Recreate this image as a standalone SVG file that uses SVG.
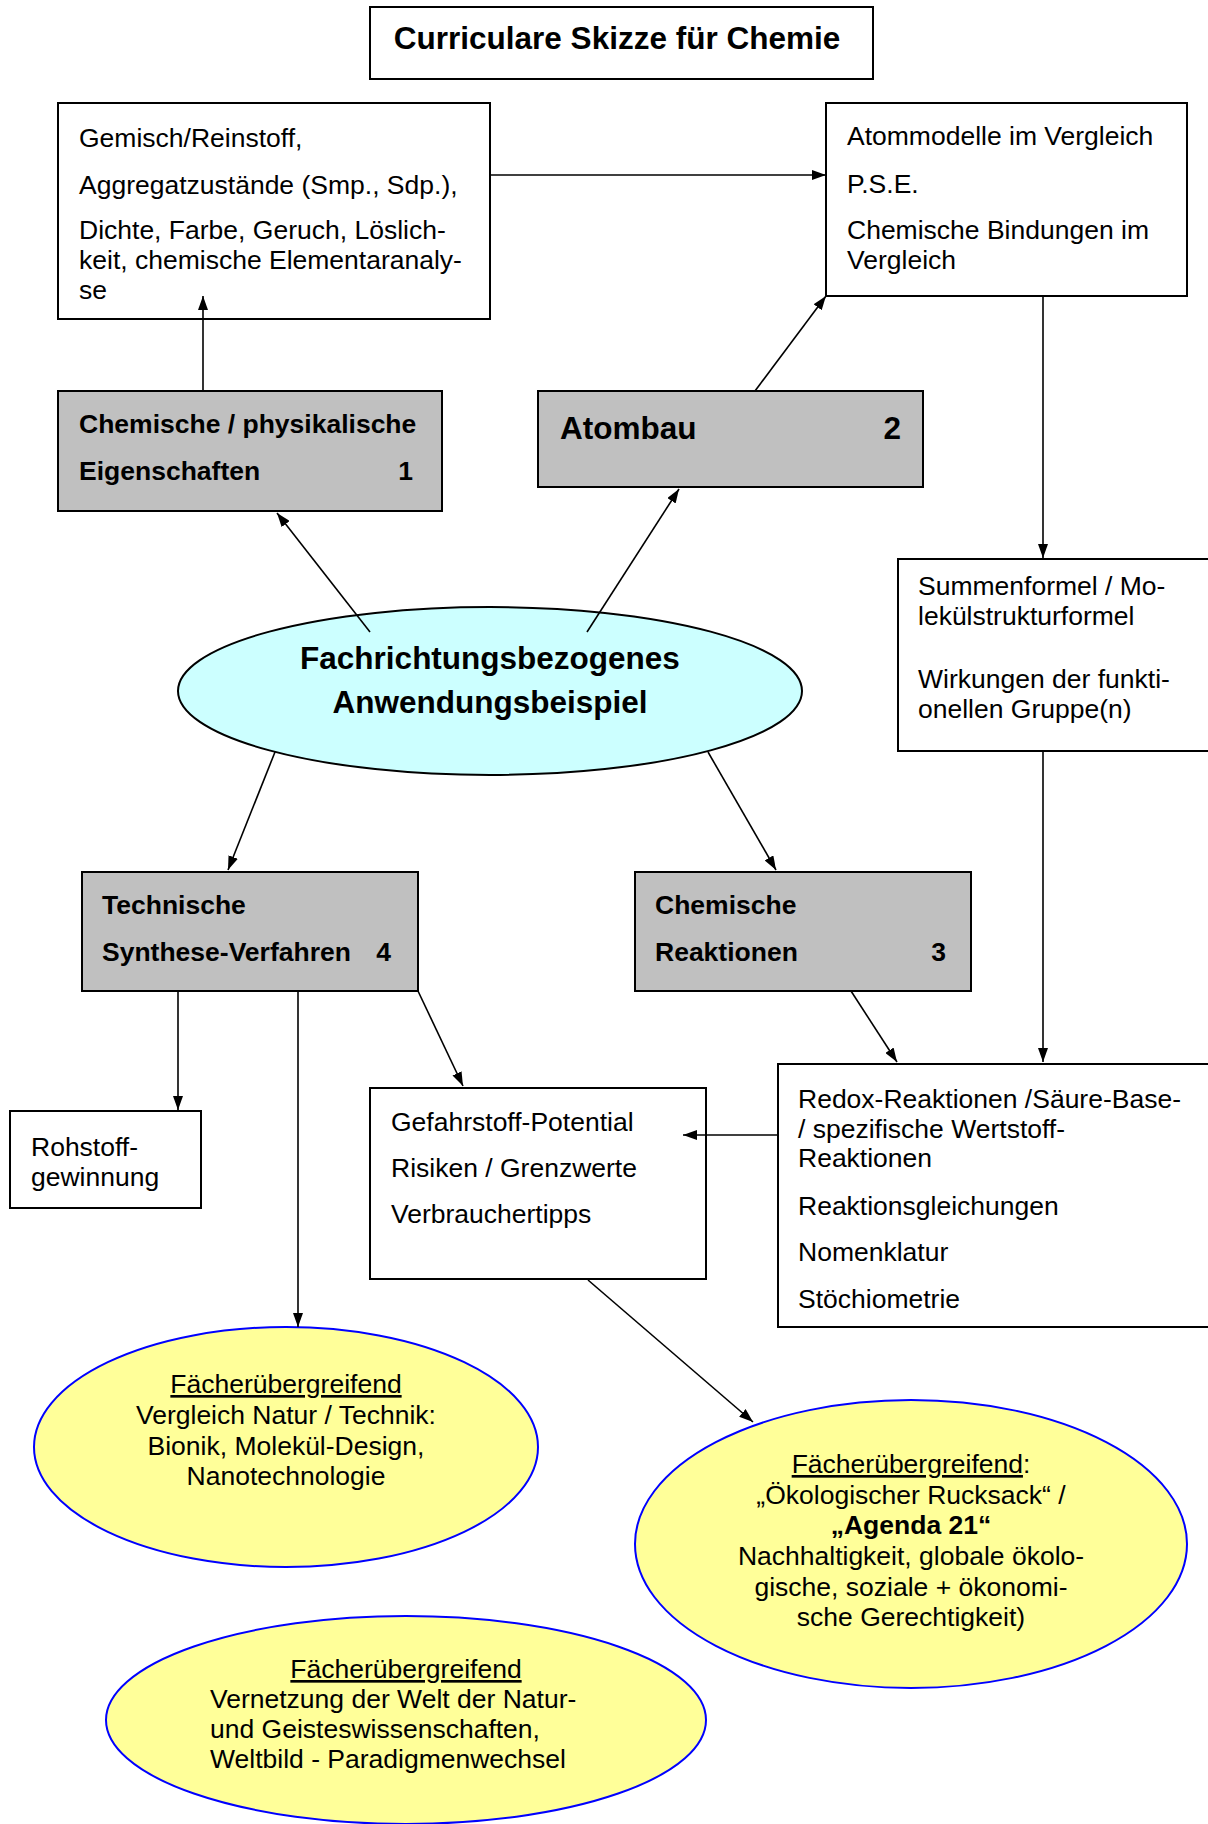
<svg xmlns="http://www.w3.org/2000/svg" width="1208" height="1824" viewBox="0 0 1208 1824">
  <style>
    text { font-family: "Liberation Sans", Arial, sans-serif; fill: #000; }
    .t { font-size: 26.5px; }
    .b { font-size: 26.5px; font-weight: bold; }
    .big { font-size: 31.5px; font-weight: bold; }
    .c { text-anchor: middle; }
    .e { text-anchor: end; }
    .u { text-decoration: underline; }
    .box { fill: #fff; stroke: #000; stroke-width: 2; }
    .grey { fill: #c0c0c0; stroke: #000; stroke-width: 2; }
    .oval { fill: #ccffff; stroke: #000; stroke-width: 2; }
    .yel { fill: #ffff99; stroke: #0000ff; stroke-width: 2; }
    .con { fill: none; stroke: #000; stroke-width: 1.6; marker-end: url(#arr); }
  </style>
  <defs>
    <marker id="arr" viewBox="0 0 14 10" refX="14" refY="5" markerWidth="14" markerHeight="10" orient="auto" markerUnits="userSpaceOnUse">
      <path d="M0,0 L14,5 L0,10 z" fill="#000"/>
    </marker>
  </defs>

  <!-- title -->
  <g id="title">
    <rect class="box" x="370" y="7" width="503" height="72"/>
    <text class="big c" x="617" y="49">Curriculare Skizze für Chemie</text>
  </g>

  <g id="stoffe">
    <rect class="box" x="58" y="103" width="432" height="216"/>
    <text class="t" x="79" y="147">Gemisch/Reinstoff,</text>
    <text class="t" x="79" y="194">Aggregatzustände (Smp., Sdp.),</text>
    <text class="t" x="79" y="239">Dichte, Farbe, Geruch, Löslich-</text>
    <text class="t" x="79" y="269">keit, chemische Elementaranaly-</text>
    <text class="t" x="79" y="299">se</text>
  </g>

  <g id="atommodelle">
    <rect class="box" x="826" y="103" width="361" height="193"/>
    <text class="t" x="847" y="145">Atommodelle im Vergleich</text>
    <text class="t" x="847" y="193">P.S.E.</text>
    <text class="t" x="847" y="239">Chemische Bindungen im</text>
    <text class="t" x="847" y="269">Vergleich</text>
  </g>

  <g id="eigenschaften">
    <rect class="grey" x="58" y="391" width="384" height="120"/>
    <text class="b" x="79" y="433">Chemische / physikalische</text>
    <text class="b" x="79" y="480">Eigenschaften</text>
    <text class="b e" x="413" y="480">1</text>
  </g>

  <g id="atombau">
    <rect class="grey" x="538" y="391" width="385" height="96"/>
    <text class="big" x="560" y="439">Atombau</text>
    <text class="big e" x="901" y="439">2</text>
  </g>

  <g id="summenformel">
    <path class="box" d="M1215,559 H898 V751 H1215"/>
    <text class="t" x="918" y="595">Summenformel / Mo-</text>
    <text class="t" x="918" y="625">lekülstrukturformel</text>
    <text class="t" x="918" y="688">Wirkungen der funkti-</text>
    <text class="t" x="918" y="718">onellen Gruppe(n)</text>
  </g>

  <g id="anwendung">
    <ellipse class="oval" cx="490" cy="691" rx="312" ry="84"/>
    <text class="big c" x="490" y="669">Fachrichtungsbezogenes</text>
    <text class="big c" x="490" y="713">Anwendungsbeispiel</text>
  </g>

  <g id="synthese">
    <rect class="grey" x="82" y="872" width="336" height="119"/>
    <text class="b" x="102" y="914">Technische</text>
    <text class="b" x="102" y="961">Synthese-Verfahren</text>
    <text class="b e" x="391" y="961">4</text>
  </g>

  <g id="reaktionen">
    <rect class="grey" x="635" y="872" width="336" height="119"/>
    <text class="b" x="655" y="914">Chemische</text>
    <text class="b" x="655" y="961">Reaktionen</text>
    <text class="b e" x="946" y="961">3</text>
  </g>

  <g id="rohstoff">
    <rect class="box" x="10" y="1111" width="191" height="97"/>
    <text class="t" x="31" y="1156">Rohstoff-</text>
    <text class="t" x="31" y="1186">gewinnung</text>
  </g>

  <g id="gefahrstoff">
    <rect class="box" x="370" y="1088" width="336" height="191"/>
    <text class="t" x="391" y="1131">Gefahrstoff-Potential</text>
    <text class="t" x="391" y="1177">Risiken / Grenzwerte</text>
    <text class="t" x="391" y="1223">Verbrauchertipps</text>
  </g>

  <g id="redox">
    <path class="box" d="M1215,1064 H778 V1327 H1215"/>
    <text class="t" x="798" y="1108">Redox-Reaktionen /Säure-Base-</text>
    <text class="t" x="798" y="1138">/ spezifische Wertstoff-</text>
    <text class="t" x="798" y="1167">Reaktionen</text>
    <text class="t" x="798" y="1215">Reaktionsgleichungen</text>
    <text class="t" x="798" y="1261">Nomenklatur</text>
    <text class="t" x="798" y="1308">Stöchiometrie</text>
  </g>

  <g id="natur-technik">
    <ellipse class="yel" cx="286" cy="1447" rx="252" ry="120"/>
    <text class="t c" x="286" y="1393"><tspan class="u">Fächerübergreifend</tspan></text>
    <text class="t c" x="286" y="1424">Vergleich Natur / Technik:</text>
    <text class="t c" x="286" y="1455">Bionik, Molekül-Design,</text>
    <text class="t c" x="286" y="1485">Nanotechnologie</text>
  </g>

  <g id="agenda">
    <ellipse class="yel" cx="911" cy="1544" rx="276" ry="144"/>
    <text class="t c" x="911" y="1473"><tspan class="u">Fächerübergreifend</tspan>:</text>
    <text class="t c" x="911" y="1504">„Ökologischer Rucksack“ /</text>
    <text class="b c" x="911" y="1534">„Agenda 21“</text>
    <text class="t c" x="911" y="1565">Nachhaltigkeit, globale ökolo-</text>
    <text class="t c" x="911" y="1596">gische, soziale + ökonomi-</text>
    <text class="t c" x="911" y="1626">sche Gerechtigkeit)</text>
  </g>

  <g id="vernetzung">
    <ellipse class="yel" cx="406" cy="1720" rx="300" ry="104"/>
    <text class="t c" x="406" y="1678"><tspan class="u">Fächerübergreifend</tspan></text>
    <text class="t" x="210" y="1708">Vernetzung der Welt der Natur-</text>
    <text class="t" x="210" y="1738">und Geisteswissenschaften,</text>
    <text class="t" x="210" y="1768">Weltbild - Paradigmenwechsel</text>
  </g>

  <!-- connectors, drawn last so that tips reaching into boxes stay visible -->
  <g id="connectors">
    <line class="con" x1="490" y1="175" x2="826" y2="175"/>
    <line class="con" x1="203" y1="391" x2="203" y2="296"/>
    <line class="con" x1="755" y1="391" x2="826" y2="296"/>
    <line class="con" x1="370" y1="632" x2="277" y2="513"/>
    <line class="con" x1="587" y1="632" x2="679" y2="489"/>
    <line class="con" x1="275" y1="752" x2="228" y2="870"/>
    <line class="con" x1="708" y1="752" x2="776" y2="870"/>
    <line class="con" x1="1043" y1="296" x2="1043" y2="558"/>
    <line class="con" x1="1043" y1="751" x2="1043" y2="1062"/>
    <line class="con" x1="178" y1="991" x2="178" y2="1110"/>
    <line class="con" x1="298" y1="991" x2="298" y2="1327"/>
    <line class="con" x1="418" y1="991" x2="463" y2="1086"/>
    <line class="con" x1="851" y1="991" x2="897" y2="1062"/>
    <line class="con" x1="778" y1="1135" x2="683" y2="1135"/>
    <line class="con" x1="588" y1="1280" x2="753" y2="1422"/>
  </g>
</svg>
